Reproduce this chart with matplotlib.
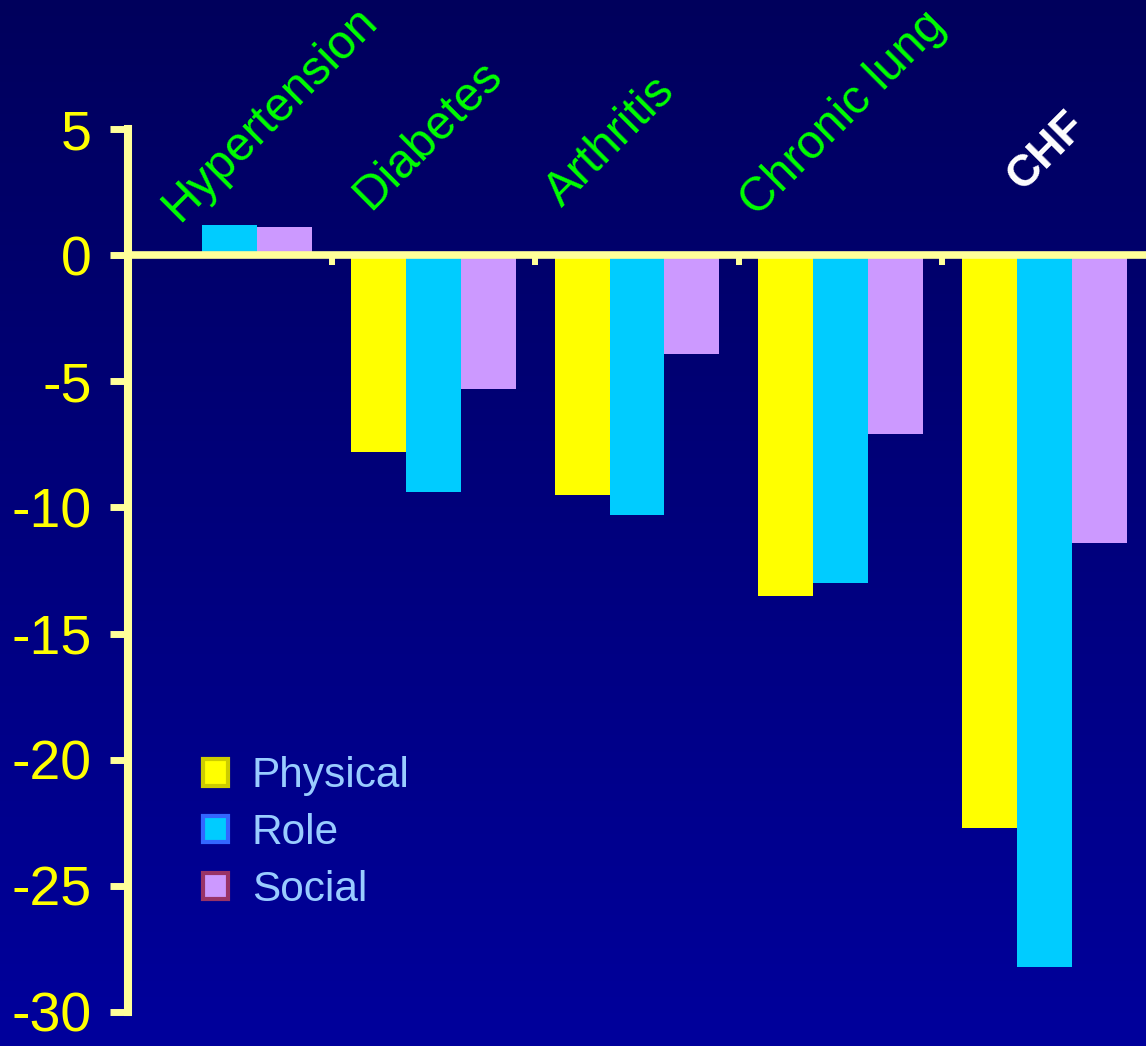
import numpy as np
import matplotlib
matplotlib.use("Agg")
import matplotlib.pyplot as plt
from matplotlib.patches import Patch

# ---- data ----
categories = ["Hypertension", "Diabetes", "Arthritis", "Chronic lung", "CHF"]
physical = [0.0, -7.8, -9.5, -13.5, -22.7]
role = [1.2, -9.4, -10.3, -13.0, -28.2]
social = [1.1, -5.3, -3.9, -7.1, -11.4]
series_names = ["Physical", "Role", "Social"]
yticks = [5, 0, -5, -10, -15, -20, -25, -30]

plt.rcParams['font.family'] = ['Liberation Sans', 'DejaVu Sans']

W, H = 1146, 1046
fig = plt.figure(figsize=(W / 100, H / 100), dpi=100)

# background gradient
bg = fig.add_axes([0, 0, 1, 1], zorder=-10)
grad = np.linspace(0, 1, 256).reshape(-1, 1)
top = np.array([0, 0, 0x5c]) / 255
bot = np.array([0, 0, 0x9c]) / 255
img = top[None, None, :] * (1 - grad[:, :, None]) + bot[None, None, :] * grad[:, :, None]
bg.imshow(img, aspect='auto', extent=[0, 1, 0, 1])
bg.axis('off')

ax = fig.add_axes([128 / W, (H - 1012) / H, 1 - 128 / W, (1012 - 129) / H])
ax.set_facecolor('none')

x = np.arange(len(categories))
w = 0.27
fills = ["#FFFF00", "#00CCFF", "#CC99FF"]
edges = ["#CCCC00", "#3366FF", "#993366"]
for i, (vals, col) in enumerate(zip([physical, role, social], fills)):
    ax.bar(x + (i - 1) * w, vals, width=w, color=col, linewidth=0, zorder=2)

ax.set_xlim(-0.5, 4.5)
ax.set_ylim(-30, 5)

axcol = "#FFFF99"
for s in ['top', 'right']:
    ax.spines[s].set_visible(False)
ax.spines['bottom'].set_position(('data', 0))
ax.spines['bottom'].set_color(axcol)
ax.spines['bottom'].set_linewidth(5.5)
ax.spines['bottom'].set_zorder(3)
ax.spines['left'].set_color(axcol)
ax.spines['left'].set_linewidth(5.8)
ax.spines['left'].set_bounds(-30, 5)

ax.set_yticks(yticks)
ax.set_yticklabels([str(v) for v in yticks])
ax.tick_params(axis='y', direction='out', length=13, width=5, color=axcol,
               labelcolor="#FFFF00", labelsize=40, pad=13)
ax.set_xticks([0.5, 1.5, 2.5, 3.5])
ax.set_xticklabels([])
ax.tick_params(axis='x', direction='out', length=7, width=4.3, color=axcol)

# category labels
label_pos = [(-0.25, 1.27), (0.69, 1.75), (1.63, 1.87), (2.59, 1.47), (3.89, 2.5)]
for i, (cat, (lx, ly)) in enumerate(zip(categories, label_pos)):
    if cat == "CHF":
        ax.text(lx, ly, cat, rotation=45, rotation_mode='anchor', ha='left',
                va='baseline', color='white', fontsize=32, fontweight='bold',
                clip_on=False)
    else:
        ax.text(lx, ly, cat, rotation=45, rotation_mode='anchor', ha='left',
                va='baseline', color='#00FF00', fontsize=34.5, clip_on=False)

handles = [Patch(facecolor=f, edgecolor=e, linewidth=3) for f, e in zip(fills, edges)]
leg = ax.legend(handles, series_names, loc='upper left',
                bbox_to_anchor=(203 / W, 1 - 756 / H), bbox_transform=fig.transFigure,
                frameon=False, fontsize=30.5, handlelength=0.6, handleheight=0.6,
                handletextpad=0.55, labelspacing=0.4, borderpad=0, borderaxespad=0)
for t in leg.get_texts():
    t.set_color("#99CCFF")

fig.savefig("out.png", dpi=100)
